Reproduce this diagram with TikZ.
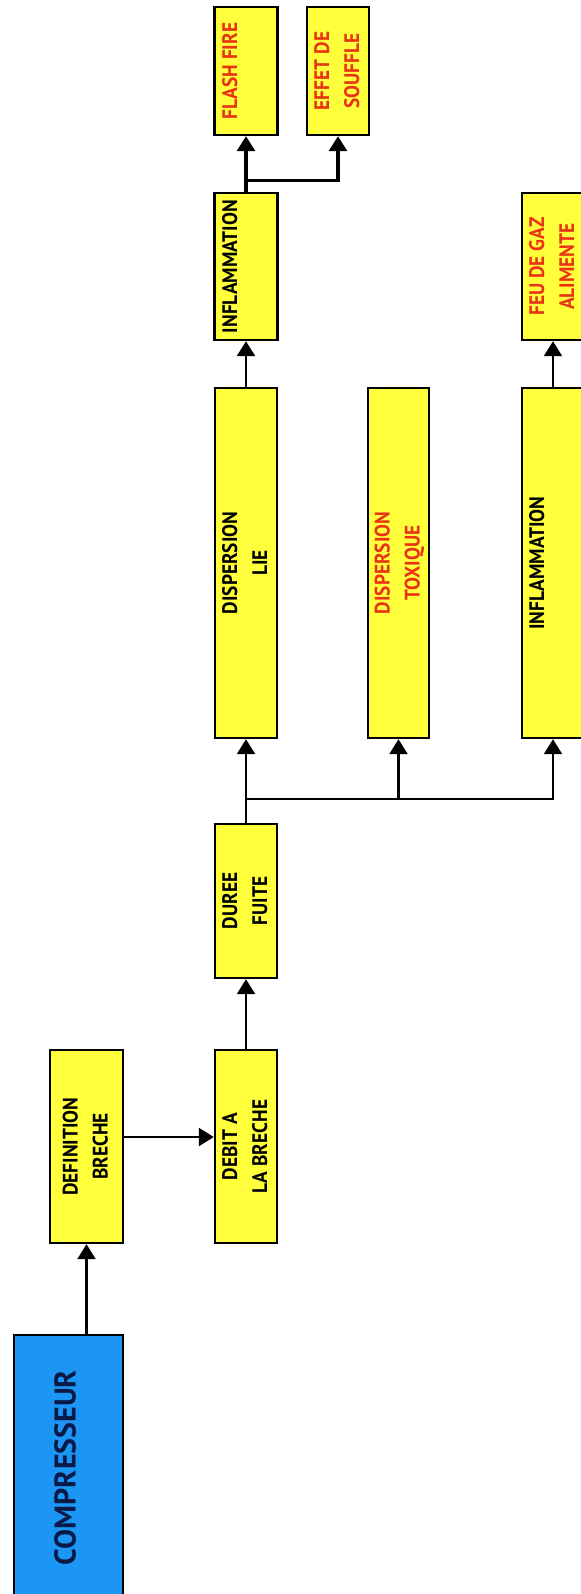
\documentclass[tikz,border=0pt]{standalone}
\usepackage{fontspec}
\setmainfont{PT Sans}
\newfontfamily\boxfont{PT Sans}[FakeStretch=0.92]
\usepackage{tikz}
\usetikzlibrary{arrows.meta, positioning, calc}
\definecolor{boxyellow}{RGB}{255,255,60}
\definecolor{compblue}{RGB}{28,150,245}
\definecolor{compnavy}{RGB}{10,25,70}
\definecolor{effectred}{RGB}{235,50,20}
\newcommand{\vlabel}[1]{\rotatebox{90}{\begin{tabular}{@{}c@{}}#1\end{tabular}}}

\begin{document}
\begin{tikzpicture}[
    x=0.5pt, y=-0.5pt,
    box/.style={rectangle, draw, line width=1.2pt, fill=boxyellow, inner sep=0pt, font=\boxfont\fontsize{10.5}{15}\selectfont\bfseries},
    effect/.style={box, text=effectred},
    source/.style={box, fill=compblue, text=compnavy, font=\fontsize{15}{18}\selectfont\bfseries},
    arrow/.style={-{Triangle[length=7.5pt, width=9pt]}, line width=1.2pt}
]
    \useasboundingbox (0,0) rectangle (581,1594);
    \clip (0,0) rectangle (581,1594);

    % Source
    \node[source, minimum width=54.5pt, minimum height=132.5pt] (comp) at (68.5, 1467.5) {\vlabel{COMPRESSEUR}};

    % Breach
    \node[box, minimum width=36.5pt, minimum height=96.5pt] (def) at (86.5, 1146.5) {\vlabel{DEFINITION\\BRECHE}};
    \node[box, minimum width=31pt, minimum height=96.5pt] (debit) at (246, 1146.5) {\vlabel{DEBIT A\\LA BRECHE}};
    \node[box, minimum width=31pt, minimum height=77pt] (duree) at (246, 901) {\vlabel{DUREE\\FUITE}};

    % Dispersion branches
    \node[box, minimum width=31pt, minimum height=175pt] (displie) at (246, 563) {\vlabel{DISPERSION\\LIE}};
    \node[effect, minimum width=30.5pt, minimum height=175pt] (disptox) at (398.5, 563) {\vlabel{DISPERSION\\TOXIQUE}};
    \node[box, minimum width=31pt, minimum height=175pt] (inflow) at (553, 563) {\vlabel{INFLAMMATION\\~}};

    % Ignition
    \node[box, minimum width=31.5pt, minimum height=73.5pt] (infl) at (246, 266.5) {\vlabel{INFLAMMATION\\~}};
    \node[effect, minimum width=31pt, minimum height=73.5pt] (feu) at (553, 266.5) {\vlabel{FEU DE GAZ\\ALIMENTE}};

    % Effects
    \node[effect, minimum width=31.5pt, minimum height=64pt] (flash) at (246, 71) {\vlabel{FLASH FIRE\\~}};
    \node[effect, minimum width=31pt, minimum height=64pt] (effet) at (338, 71) {\vlabel{EFFET DE\\SOUFFLE}};

    % Forks
    \coordinate (fork) at ($(duree.north)+(0,-24)$);
    \coordinate (fork2) at ($(infl.north)+(0,-11)$);

    % Arrows
    \draw[arrow] (def.south |- comp.north) -- (def.south);
    \draw[arrow] ([yshift=4.75pt]def.east) -- ([yshift=4.75pt]def.east -| debit.west);
    \draw[arrow] (debit.north) -- (duree.south);
    \draw[line width=1.2pt] (duree.north) -- (fork);
    \draw[arrow] (fork) -- (displie.south);
    \draw[arrow] (fork) -| (disptox.south);
    \draw[arrow] (fork) -| (inflow.south);
    \draw[arrow] (displie.north) -- (infl.south);
    \draw[arrow] (inflow.north) -- (feu.south);
    \draw[arrow, line width=1.6pt] (infl.north) -- (flash.south);
    \draw[arrow, line width=1.6pt] (fork2) -| (effet.south);
\end{tikzpicture}
\end{document}
